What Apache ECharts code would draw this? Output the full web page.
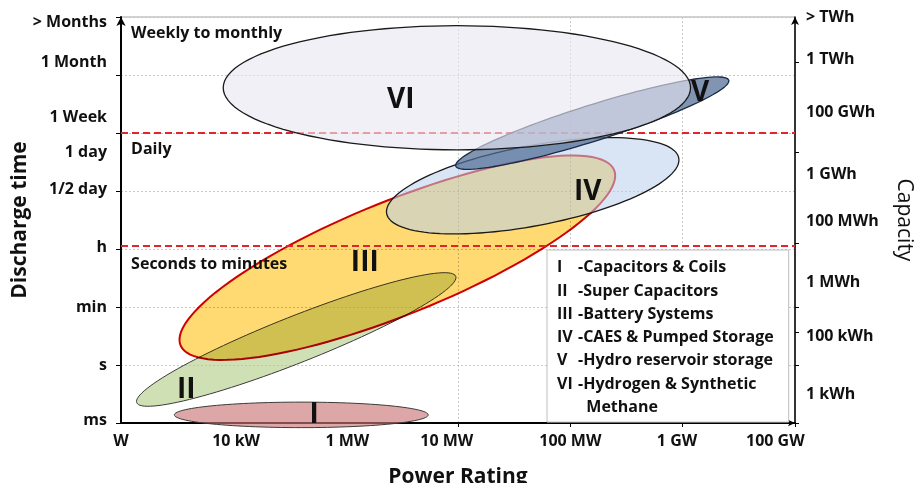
<!DOCTYPE html>
<html>
<head>
<meta charset="utf-8">
<script src="https://cdn.jsdelivr.net/npm/echarts@6/dist/echarts.min.js"></script>
<style>
  html, body { margin: 0; padding: 0; background: #fff; }
  #chart { width: 917px; height: 483px; }
</style>
</head>
<body>
<div id="chart"></div>
<script>
// power axis runs on grid steps: W at 0 ... 100 GW at 12
const powerTicks = ['W', '10 kW', '1 MW', '10 MW', '100 MW', '1 GW', '100 GW'];
const powerTickPos = [0, 2.05, 4.03, 5.8, 8, 9.9, 11.65];
const timeTicks = ['ms', 's', 'min', 'h', '1/2 day', '1 day', '1 Week', '1 Month', '> Months'];
const timeTickPos = [0.05, 1, 2, 3.03, 4.02, 4.67, 5.26, 6.22, 6.91];
const capacityTicks = ['1 kWh', '100 kWh', '1 MWh', '100 MWh', '1 GWh', '100 GWh', '1 TWh', '> TWh'];
const capacityTickPos = [0.5, 1.5, 2.43, 3.48, 4.28, 5.36, 6.26, 7];
const capacityMarks = [0, 1, 1.57, 2, 3.1, 4.67, 6.22];

const techNames = ['Capacitors & Coils', 'Super Capacitors', 'Battery Systems',
  'CAES & Pumped Storage', 'Hydro reservoir storage', 'Hydrogen & Synthetic Methane'];
const numerals = ['I', 'II', 'III', 'IV', 'V', 'VI'];
// each area = centre, one end of its long axis, half width (in time units)
const centerX = [3.21, 3.12, 4.92, 7.33, 8.39, 5.98];
const centerY = [0.14, 1.44, 2.85, 4.09, 5.17, 5.78];
const endX = [5.47, 5.96, 8.78, 9.93, 10.82, 10.14];
const endY = [0.14, 2.53, 4.36, 4.57, 5.91, 5.78];
const halfWidth = [0.22, 0.40, 0.98, 0.69, 0.31, 1.07];
const numeralX = [3.44, 1.16, 4.34, 8.31, 10.31, 4.98];
const numeralY = [0.14, 0.57, 2.76, 3.98, 5.69, 5.57];

const bandNames = ['Seconds to minutes', 'Daily', 'Weekly to monthly'];
const bandLabelY = [2.74, 4.71, 6.71];
const bandEdges = [3.05, 5];

const FONT = 'Open Sans';
const fills = ['rgba(205,120,120,0.65)', 'rgba(175,205,130,0.6)', '#FFDA72',
  'rgba(185,208,235,0.55)', 'rgba(80,108,150,0.72)', 'rgba(232,230,242,0.62)'];
const strokes = ['#3a3a3a', '#3a3a3a', '#d00000', '#1a1a1a', '#1c2b45', '#1a1a1a'];
const strokeWidths = [1, 1, 2, 1.3, 1.3, 1.3];

function pick(list, pos, v) {
  for (let i = 0; i < pos.length; i++) {
    if (Math.abs(pos[i] - v) < 1e-6) return list[i];
  }
  return '';
}

function renderArea(params, api) {
  const c = api.coord([api.value(0), api.value(1)]);
  const e = api.coord([api.value(2), api.value(3)]);
  const b = api.size([0, api.value(4)])[1];
  const dx = e[0] - c[0], dy = e[1] - c[1];
  const a = Math.hypot(dx, dy);
  const ux = dx / a, uy = dy / a;
  const pts = [];
  for (let i = 0; i < 120; i++) {
    const t = i / 120 * Math.PI * 2;
    const p = a * Math.cos(t), q = b * Math.sin(t);
    pts.push([c[0] + p * ux - q * uy, c[1] + p * uy + q * ux]);
  }
  return { type: 'polygon', shape: { points: pts }, style: api.style() };
}

const chart = echarts.init(document.getElementById('chart'));

const areaSeries = techNames.map((name, i) => ({
  name: name,
  type: 'custom',
  renderItem: renderArea,
  // batteries tint what lies under them (super caps show through)
  blendMode: i === 2 ? 'multiply' : undefined,
  clip: false,
  silent: true,
  z: 2 + i,
  itemStyle: { color: fills[i], borderColor: strokes[i], borderWidth: strokeWidths[i] },
  data: [[centerX[i], centerY[i], endX[i], endY[i], halfWidth[i]]]
}));

const labelStyle = { fontFamily: FONT, fontWeight: 'bold', fontSize: 16, color: '#111' };

const option = {
  animation: false,
  grid: { left: 121, right: 122, top: 17, bottom: 60, show: true, borderColor: '#a6a6a6', borderWidth: 1,
    outerBoundsMode: 'none', containLabel: false },
  legend: {
    data: techNames,
    orient: 'vertical',
    left: 547,
    top: 250,
    selectedMode: false,
    icon: 'rect',
    itemWidth: 0,
    itemHeight: 0,
    itemGap: 0,
    padding: [6, 15, 3, 4],
    backgroundColor: '#fff',
    borderColor: '#bdbdbd',
    borderWidth: 1,
    formatter: function (name) {
      const i = techNames.indexOf(name);
      if (i === 5) {
        return '{n|' + numerals[i] + '}{t|-Hydrogen & Synthetic}\n{n|}{t|  Methane}';
      }
      return '{n|' + numerals[i] + '}{t|-' + name + '}';
    },
    textStyle: {
      fontFamily: FONT, fontWeight: 'bold', fontSize: 16, color: '#111', lineHeight: 23.3,
      rich: {
        n: { width: 21, fontFamily: FONT, fontWeight: 'bold', fontSize: 16, color: '#111', lineHeight: 23.3 },
        t: { fontFamily: FONT, fontWeight: 'bold', fontSize: 16, color: '#111', lineHeight: 23.3 }
      }
    }
  },
  xAxis: {
    type: 'value', min: 0, max: 12, interval: 1,
    name: 'Power Rating', nameLocation: 'middle', nameGap: 44, nameMoveOverlap: false,
    nameTextStyle: { fontFamily: FONT, fontWeight: 'bold', fontSize: 21, color: '#111' },
    axisLine: { show: true, onZero: false, lineStyle: { color: '#000', width: 2 }, symbol: ['none', 'arrow'], symbolSize: [5, 7] },
    axisTick: { show: true, length: 4, customValues: [6, 8, 10, 12], lineStyle: { color: '#000' } },
    axisLabel: Object.assign({ customValues: powerTickPos, margin: 10,
      formatter: v => pick(powerTicks, powerTickPos, v) }, labelStyle),
    splitLine: { show: true, lineStyle: { color: '#c8c8c8', type: [2, 2] } }
  },
  yAxis: [{
    type: 'value', min: 0, max: 7, interval: 1, position: 'left',
    name: 'Discharge time', nameLocation: 'middle', nameGap: 90, nameMoveOverlap: false,
    nameTextStyle: { fontFamily: FONT, fontWeight: 'bold', fontSize: 21, color: '#111' },
    axisLine: { show: true, onZero: false, lineStyle: { color: '#000', width: 2 }, symbol: ['none', 'arrow'], symbolSize: [7, 9] },
    axisTick: { show: true, length: 5, lineStyle: { color: '#000' } },
    axisLabel: Object.assign({ customValues: timeTickPos, margin: 14,
      formatter: v => pick(timeTicks, timeTickPos, v) }, labelStyle),
    splitLine: { show: true, lineStyle: { color: '#c8c8c8', type: [2, 2] } }
  }, {
    type: 'value', min: 0, max: 7, position: 'right',
    name: 'Capacity', nameLocation: 'middle', nameGap: 98, nameRotate: -90, nameMoveOverlap: false,
    nameTextStyle: { fontFamily: FONT, fontSize: 21, color: '#111' },
    axisLine: { show: true, onZero: false, lineStyle: { color: '#000', width: 1.5 }, symbol: ['none', 'arrow'], symbolSize: [6, 8] },
    axisTick: { show: true, length: 4, customValues: capacityMarks, lineStyle: { color: '#000' } },
    axisLabel: Object.assign({ customValues: capacityTickPos, margin: 11,
      formatter: v => pick(capacityTicks, capacityTickPos, v) }, labelStyle),
    splitLine: { show: false }
  }],
  series: areaSeries.concat([{
    name: 'numerals',
    type: 'scatter',
    symbolSize: 0,
    silent: true,
    z: 20,
    itemStyle: { opacity: 1 },
    label: { show: true, position: 'inside', formatter: p => p.value[2],
      fontFamily: FONT, fontWeight: 'bold', fontSize: 28, color: '#111' },
    data: numerals.map((n, i) => [numeralX[i], numeralY[i], n])
  }, {
    name: 'bands',
    type: 'scatter',
    symbolSize: 0,
    silent: true,
    z: 21,
    itemStyle: { opacity: 1 },
    label: Object.assign({ show: true, position: 'right', distance: 0, formatter: p => p.value[2] }, labelStyle),
    data: bandNames.map((n, i) => [0.18, bandLabelY[i], n]),
    markLine: {
      silent: true,
      symbol: 'none',
      label: { show: false },
      lineStyle: { color: '#e0262a', type: [7, 4], width: 2 },
      data: bandEdges.map(v => ({ yAxis: v }))
    }
  }])
};

chart.setOption(option);
window.addEventListener('resize', function () { chart.resize(); });
</script>
</body>
</html>
